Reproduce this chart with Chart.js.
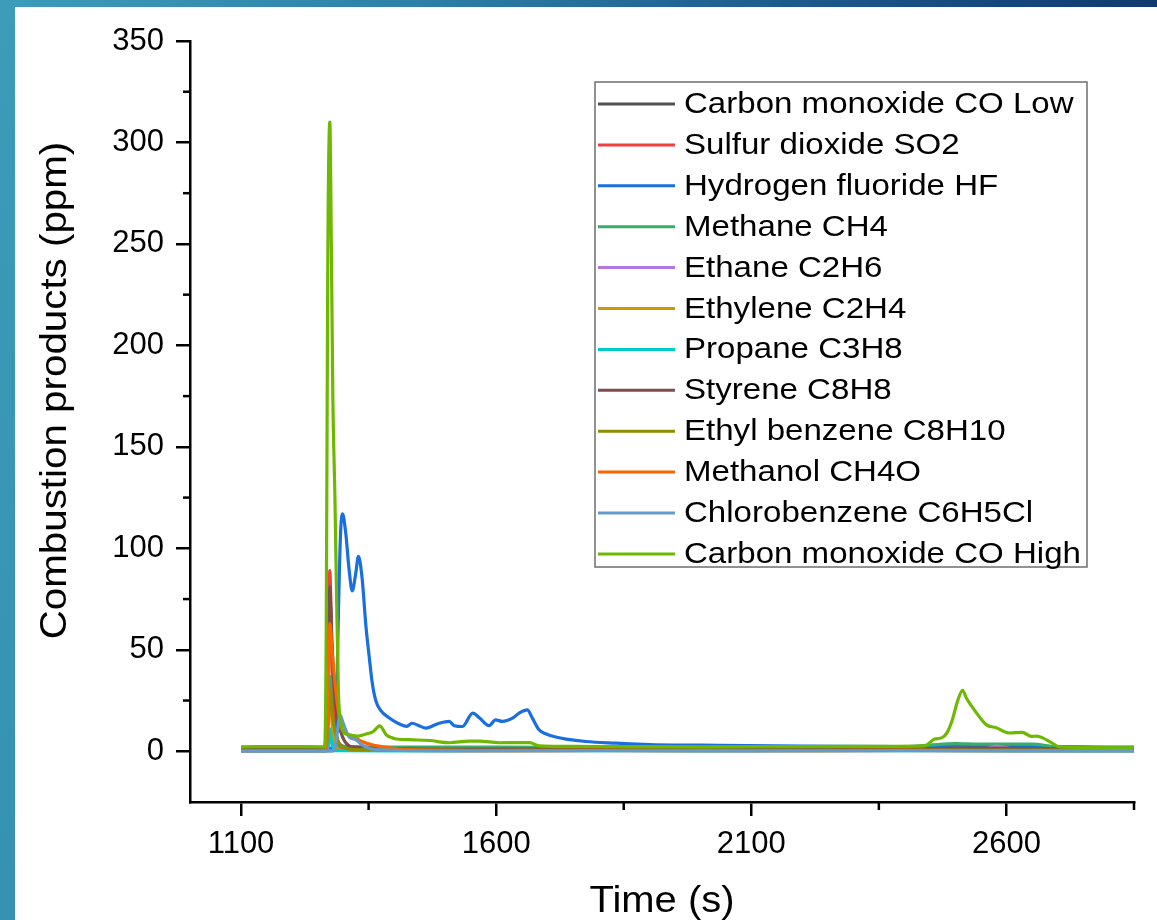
<!DOCTYPE html>
<html>
<head>
<meta charset="utf-8">
<script src="https://cdn.jsdelivr.net/npm/chart.js@4.4.1/dist/chart.umd.min.js"></script>
<style>
  html, body { margin: 0; padding: 0; }
  body {
    width: 1157px; height: 920px; overflow: hidden; position: relative;
    background: linear-gradient(100deg, #3c9cba 0%, #2e82a8 30%, #1b5488 65%, #0b2c63 100%);
  }
  #panel {
    position: absolute; left: 15px; top: 7px; width: 1142px; height: 913px;
    background: #fff;
  }
</style>
</head>
<body>
<div id="panel"><canvas id="grafica"></canvas></div>
<script>
const seriesNames = [
  'Carbon monoxide CO Low', 'Sulfur dioxide SO2', 'Hydrogen fluoride HF', 'Methane CH4',
  'Ethane C2H6', 'Ethylene C2H4', 'Propane C3H8', 'Styrene C8H8',
  'Ethyl benzene C8H10', 'Methanol CH4O', 'Chlorobenzene C6H5Cl', 'Carbon monoxide CO High'
];
const seriesColors = [
  '#515151', '#F14040', '#1A6FDF', '#37AD6B', '#B177DE', '#CC9900',
  '#00CBCC', '#7D4E4E', '#8E8E00', '#FB6500', '#6699CC', '#6FB802'
];

// time (s) / concentration (ppm), one pair per gas
const tCOLow = [1100, 1180, 1264, 1268, 1272, 1275, 1279, 1284, 1292, 1310, 1450, 1700, 1900, 2100, 2300, 2500, 2650, 2850];
const vCOLow = [1.0, 1.4, 1.0, 20, 60, 72, 40, 15, 4, 2, 1.4, 1.0, 1.5, 1.0, 1.4, 1.6, 1.3, 1.0];

const tSO2 = [1100, 1200, 1266, 1270, 1274, 1278, 1283, 1290, 1400, 1600, 1800, 2000, 2200, 2400, 2550, 2620, 2700, 2850];
const vSO2 = [0.8, 1.1, 0.8, 25, 89, 45, 10, 1.5, 0.8, 1.1, 0.6, 1.1, 0.8, 1.0, 2.0, 1.8, 0.8, 0.8];

const tHF = [1100, 1200, 1280, 1286, 1290, 1295, 1299, 1305, 1312, 1318, 1325, 1330, 1337, 1345, 1351, 1357,
  1364, 1374, 1390, 1406, 1425, 1435, 1450, 1462, 1482, 1490, 1508, 1518, 1534, 1554, 1567, 1586, 1599,
  1612, 1632, 1645, 1661, 1671, 1684, 1697, 1717, 1737, 1776, 1835, 1900, 2000, 2200, 2400, 2500, 2600, 2700, 2850];
const vHF = [1.5, 1.5, 1.5, 2.4, 58, 107, 117, 108, 89, 79, 88, 96, 86, 61, 47, 34,
  25, 20, 16.5, 14, 12.3, 13.8, 12.5, 11.4, 13.2, 13.9, 14.7, 12.6, 12.2, 18.8, 16.5, 12.6, 15.5,
  14.7, 16.3, 18.8, 20.4, 16.3, 10.6, 8.6, 7, 6, 4.8, 4, 3.3, 3, 2.5, 2.3, 3, 2.8, 2.3, 2];

const tCH4 = [1100, 1200, 1266, 1270, 1274, 1278, 1283, 1290, 1400, 1600, 1800, 2000, 2200, 2400, 2450, 2500, 2550, 2650, 2700, 2850];
const vCH4 = [1.8, 2.0, 1.8, 15, 37, 20, 6, 2.5, 2, 2, 1.8, 2, 1.8, 2, 3, 3.8, 3.5, 3.5, 2.2, 1.8];

const tC2H6 = [1100, 1267, 1272, 1276, 1282, 1290, 1500, 1800, 2100, 2400, 2550, 2580, 2620, 2850];
const vC2H6 = [0.5, 0.5, 3, 6, 2, 0.5, 0.6, 0.5, 0.6, 0.5, 0.8, 2.5, 0.8, 0.5];

const tC2H4 = [1100, 1266, 1270, 1274, 1279, 1285, 1295, 1500, 1800, 2100, 2400, 2700, 2850];
const vC2H4 = [0.3, 0.3, 10, 28, 12, 3, 0.5, 0.3, 0.4, 0.3, 0.4, 0.3, 0.3];

const tC3H8 = [1100, 1267, 1271, 1274, 1278, 1284, 1400, 1700, 2000, 2300, 2600, 2850];
const vC3H8 = [0.2, 0.2, 5, 11, 4, 0.3, 0.2, 0.3, 0.2, 0.3, 0.2, 0.2];

const tC8H8 = [1100, 1266, 1270, 1274, 1278, 1283, 1288, 1295, 1303, 1320, 1500, 1800, 2100, 2400, 2550, 2650, 2850];
const vC8H8 = [1, 1, 30, 81, 55, 30, 18, 10, 5, 2, 1, 1.2, 1, 1.2, 1.5, 1.3, 1];

const tC8H10 = [1100, 1266, 1270, 1274, 1279, 1285, 1292, 1300, 1320, 1600, 1900, 2200, 2500, 2850];
const vC8H10 = [0.5, 0.5, 10, 30, 18, 9, 4, 2, 0.8, 0.5, 0.6, 0.5, 0.6, 0.5];

const tCH4O = [1100, 1266, 1270, 1274, 1279, 1286, 1296, 1305, 1325, 1337, 1357, 1390, 1420, 1600, 1800, 2100, 2400, 2700, 2850];
const vCH4O = [0.2, 0.2, 20, 63, 48, 29, 12, 9, 6.6, 4.8, 3.2, 1.7, 0.8, 0.3, 0.4, 0.3, 0.4, 0.3, 0.3];

const tC6H5Cl = [1100, 1280, 1286, 1290, 1294, 1300, 1312, 1325, 1337, 1360, 1500, 1800, 2100, 2400, 2700, 2850];
const vC6H5Cl = [0, 0, 4, 12, 18, 14, 7, 5.7, 3.2, 1, 0.2, 0.3, 0.2, 0.3, 0.2, 0.2];

const tCOHigh = [1100, 1180, 1264, 1267, 1270, 1274, 1277, 1280, 1284, 1287, 1291, 1296, 1302, 1315, 1330, 1345,
  1358, 1372, 1385, 1400, 1430, 1470, 1508, 1547, 1567, 1606, 1640, 1665, 1684, 1750, 1850, 2000, 2150, 2300,
  2440, 2459, 2473, 2484, 2494, 2504, 2514, 2522, 2537, 2561, 2580, 2606, 2631, 2649, 2659, 2671, 2688, 2704, 2780, 2850];
const vCOHigh = [2.2, 2.3, 2.2, 60, 240, 310, 250, 173, 125, 80, 28, 14, 9, 8, 7.5, 8.5,
  9.5, 12.5, 8, 6.3, 5.7, 5.3, 4.2, 5, 5, 4.2, 4.3, 4.3, 2.7, 2.4, 2.3, 2.2, 2.3, 2.4,
  2.7, 6, 6.6, 9.3, 15.5, 24.5, 30, 26, 20.4, 13, 11.6, 9, 9.3, 7.3, 7.5, 6.6, 4.3, 2.2, 1.8, 1.7];

const seriesTimes = [tCOLow, tSO2, tHF, tCH4, tC2H6, tC2H4, tC3H8, tC8H8, tC8H10, tCH4O, tC6H5Cl, tCOHigh];
const seriesValues = [vCOLow, vSO2, vHF, vCH4, vC2H6, vC2H4, vC3H8, vC8H8, vC8H10, vCH4O, vC6H5Cl, vCOHigh];

const xMajor = [1100, 1600, 2100, 2600];
const xMinor = [1350, 1850, 2350, 2850];
const yMajor = [0, 50, 100, 150, 200, 250, 300, 350];
const yMinor = [25, 75, 125, 175, 225, 275, 325];

const FONT = '"Liberation Sans", Arial, sans-serif';

const datasets = seriesNames.map((name, i) => ({
  label: name,
  data: seriesTimes[i].map((t, j) => ({ x: t, y: seriesValues[i][j] })),
  borderColor: seriesColors[i],
  backgroundColor: seriesColors[i],
  borderWidth: 3.2,
  pointRadius: 0,
  cubicInterpolationMode: 'monotone',
  order: seriesNames.length - 1 - i   // last gas drawn on top
}));

// the original text is a little wider than Arial, so stretch it sideways
function wideText(ctx, text, x, y, sx) {
  ctx.save();
  ctx.translate(x, y);
  ctx.scale(sx, 1);
  ctx.fillText(text, 0, 0);
  ctx.restore();
}

// legend box, axis titles and minor ticks
const extras = {
  id: 'extras',
  afterDraw(chart) {
    const { ctx, chartArea: a, scales: { x, y } } = chart;
    ctx.save();
    ctx.strokeStyle = '#000';
    ctx.lineWidth = 2.5;
    xMinor.forEach(v => {
      const px = x.getPixelForValue(v);
      ctx.beginPath(); ctx.moveTo(px, a.bottom); ctx.lineTo(px, a.bottom + 8); ctx.stroke();
    });
    yMinor.forEach(v => {
      const py = y.getPixelForValue(v);
      ctx.beginPath(); ctx.moveTo(a.left, py); ctx.lineTo(a.left - 7, py); ctx.stroke();
    });

    // legend
    const x0 = a.left + 405, y0 = a.top + 41, w = 492, h = 485;
    ctx.fillStyle = '#fff';
    ctx.fillRect(x0, y0, w, h);
    ctx.strokeStyle = '#6e6e6e';
    ctx.lineWidth = 1.5;
    ctx.strokeRect(x0, y0, w, h);
    ctx.font = '29px ' + FONT;
    ctx.textBaseline = 'middle';
    ctx.textAlign = 'left';
    chart.data.datasets.forEach((ds, i) => {
      const ly = y0 + 22 + i * 40.9;
      ctx.strokeStyle = ds.borderColor;
      ctx.lineWidth = 3;
      ctx.beginPath(); ctx.moveTo(x0 + 3, ly); ctx.lineTo(x0 + 80, ly); ctx.stroke();
      ctx.fillStyle = '#000';
      wideText(ctx, ds.label, x0 + 89, ly + 1, 1.14);
    });

    // axis titles
    ctx.fillStyle = '#000';
    ctx.font = '37px ' + FONT;
    ctx.textBaseline = 'alphabetic';
    ctx.textAlign = 'center';
    wideText(ctx, 'Time (s)', (a.left + a.right) / 2, a.bottom + 110, 1.08);
    ctx.translate(a.left - 124, (a.top + a.bottom) / 2 - 31);
    ctx.rotate(-Math.PI / 2);
    wideText(ctx, 'Combustion products (ppm)', 0, 0, 1.09);
    ctx.restore();
  }
};

const axisStyle = {
  grid: { display: true, drawOnChartArea: false, drawTicks: true, tickLength: 14, tickWidth: 2.5, tickColor: '#000', color: '#000', lineWidth: 2.5 },
  border: { display: true, color: '#000', width: 2.5 }
};

function crearGrafica() {
  const ctx = document.getElementById('grafica').getContext('2d');
  return new Chart(ctx, {
    type: 'line',
    data: { datasets: datasets },
    options: {
      responsive: true,
      maintainAspectRatio: false,
      animation: false,
      devicePixelRatio: 1,
      layout: { padding: { left: 0, top: 34, right: 23, bottom: 0 } },
      plugins: { legend: { display: false }, tooltip: { enabled: false } },
      scales: {
        x: {
          type: 'linear', min: 1000, max: 2850,
          ...axisStyle,
          afterBuildTicks: s => { s.ticks = xMajor.map(v => ({ value: v })); },
          afterFit: s => { s.height = 118; },
          ticks: { color: '#000', padding: 10, maxRotation: 0, font: { family: FONT, size: 31 }, callback: v => String(v) }
        },
        y: {
          type: 'linear', min: -25, max: 350,
          ...axisStyle,
          afterBuildTicks: s => { s.ticks = yMajor.map(v => ({ value: v })); },
          afterFit: s => { s.width = 175; },
          ticks: { color: '#000', padding: 12, font: { family: FONT, size: 31 }, callback: v => String(v) }
        }
      }
    },
    plugins: [extras]
  });
}

crearGrafica();
</script>
</body>
</html>
